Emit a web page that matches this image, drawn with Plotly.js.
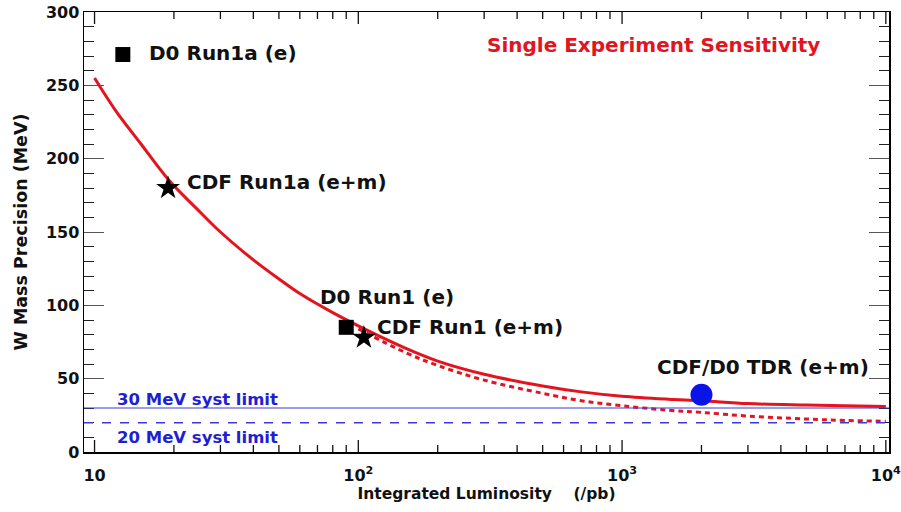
<!DOCTYPE html>
<html>
<head>
<meta charset="utf-8">
<script src="https://cdn.plot.ly/plotly-3.0.1.min.js"></script>
<style>html,body{margin:0;padding:0;background:#fff;}#chart{width:901px;height:512px;}</style>
</head>
<body>
<div id="chart"></div>
<script>
// Sensitivity curves
const lumi = [10, 12, 15, 19, 25, 30, 40, 50, 60, 80, 100, 150, 200, 300, 500, 700, 1000, 1500, 2000, 3000, 5000, 7000, 10000];
const precision30 = [255, 233, 210, 186, 164, 150, 131, 118, 108, 95, 86, 71, 62, 53, 45, 41, 38, 36, 35, 33, 32, 31.5, 31];
const lumiDash = [100, 150, 200, 300, 500, 700, 1000, 1500, 2000, 3000, 5000, 7000, 10000];
const precision20 = [84, 68, 59, 49, 40, 35, 31.5, 28.5, 27, 24.5, 22.5, 21.5, 21];

// Measurements
const d0Names = ["D0 Run1a (e)", "D0 Run1 (e)"];
const d0Lumi = [12.8, 90];
const d0Prec = [271, 85];
const cdfNames = ["CDF Run1a (e+m)", "CDF Run1 (e+m)"];
const cdfLumi = [19, 105];
const cdfPrec = [180, 78];
const tdrName = ["CDF/D0 TDR (e+m)"];
const tdrLumi = [2000];
const tdrPrec = [39];

// Systematic limits
const systLimits = [30, 20];
const systLabels = ["30 MeV syst limit", "20 MeV syst limit"];

// Axis ticks
const xDecades = [10, 100, 1000, 10000];
const xDecadeText = ["10", "10<sup>2</sup>", "10<sup>3</sup>", "10<sup>4</sup>"];
const xMinorDigits = [2, 3, 4, 5, 6, 7, 8, 9];
const yTickVals = [0, 50, 100, 150, 200, 250, 300];

const RED = "#e3141f";
const BLUE = "#1e1ed2";
const FONT = "DejaVu Sans";
const X_RANGE = [0.96, 4.012];
const Y_RANGE = [0, 300];
const PLOT_H = 440;

// x-axis tick marks (bottom and top, inward) built as a line trace in axis units
const tickX = [], tickY = [];
function xTick(v, len) {
  const h = (Y_RANGE[1] - Y_RANGE[0]) * len / PLOT_H;
  tickX.push(v, v, null, v, v, null);
  tickY.push(Y_RANGE[0], Y_RANGE[0] + h, null, Y_RANGE[1], Y_RANGE[1] - h, null);
}
xDecades.forEach((d, i) => {
  xTick(d, 12);
  if (i < xDecades.length - 1) xMinorDigits.forEach(k => xTick(d * k, 7));
});

const traces = [
  {x: tickX, y: tickY, mode: "lines", line: {color: "#111", width: 1.3}, connectgaps: false, hoverinfo: "skip", cliponaxis: false},
  {x: lumiDash, y: precision20, mode: "lines", line: {color: RED, width: 3, dash: "5px,4px", shape: "spline"}, hoverinfo: "skip"},
  {x: lumi, y: precision30, mode: "lines", line: {color: RED, width: 3, shape: "spline"}, hoverinfo: "skip"},
  {x: d0Lumi, y: d0Prec, mode: "markers", marker: {symbol: "square", size: 15, color: "#000"}, text: d0Names},
  {x: cdfLumi, y: cdfPrec, mode: "markers", marker: {symbol: "star", size: 18, color: "#000"}, text: cdfNames},
  {x: tdrLumi, y: tdrPrec, mode: "markers", marker: {symbol: "circle", size: 22, color: "#0a14e6"}, text: tdrName}
];

const lx = v => Math.log10(v);
const labelFont = {family: FONT, size: 20, color: "#111", weight: "bold"};
const annotations = [
  {x: lx(15.8), y: 272, text: d0Names[0], xanchor: "left"},
  {x: lx(22.0), y: 184, text: cdfNames[0], xanchor: "left"},
  {x: lx(70.3), y: 106, text: d0Names[1], xanchor: "left"},
  {x: lx(116), y: 85, text: cdfNames[1], xanchor: "left"},
  {x: lx(1330), y: 58, text: tdrName[0], xanchor: "left"}
].map(a => Object.assign({xref: "x", yref: "y", showarrow: false, yanchor: "middle", font: labelFont}, a));
annotations.push({x: lx(301), y: 277.5, xref: "x", yref: "y", xanchor: "left", yanchor: "middle", showarrow: false,
  text: "Single Experiment Sensitivity", font: {family: FONT, size: 20, color: RED, weight: "bold"}});
annotations.push({x: lx(12), y: systLimits[0] + 6, xref: "x", yref: "y", xanchor: "left", yanchor: "middle", showarrow: false,
  text: systLabels[0], font: {family: FONT, size: 16.5, color: BLUE, weight: "bold"}});
annotations.push({x: lx(12), y: 10, xref: "x", yref: "y", xanchor: "left", yanchor: "middle", showarrow: false,
  text: systLabels[1], font: {family: FONT, size: 16.5, color: BLUE, weight: "bold"}});

const shapes = [
  {type: "line", xref: "paper", x0: 0, x1: 1, yref: "y", y0: systLimits[0], y1: systLimits[0], line: {color: "#3a3adc", width: 1.2}},
  {type: "line", xref: "paper", x0: 0, x1: 1, yref: "y", y0: systLimits[1], y1: systLimits[1], line: {color: "#3a3adc", width: 1.5, dash: "dash"}}
];

const layout = {
  width: 901, height: 512,
  margin: {l: 84, r: 12, t: 12, b: 60},
  paper_bgcolor: "#fff", plot_bgcolor: "#fff",
  showlegend: false,
  xaxis: {
    type: "log", range: X_RANGE,
    tickmode: "array", tickvals: xDecades, ticktext: xDecadeText,
    ticks: "", ticklabelstandoff: 8, ticklabeloverflow: "allow",
    showline: true, linecolor: "#000", linewidth: 1.5, mirror: true,
    showgrid: false, zeroline: false,
    tickfont: {family: FONT, size: 16, color: "#111", weight: "bold"},
    title: {text: "Integrated Luminosity&nbsp;&nbsp;&nbsp;&nbsp;(/pb)", standoff: 4,
            font: {family: FONT, size: 15.5, color: "#111", weight: "bold"}}
  },
  yaxis: {
    range: Y_RANGE, tickvals: yTickVals,
    ticks: "inside", ticklen: 20, tickcolor: "#555", tickwidth: 1,
    minor: {ticks: "inside", ticklen: 10, dtick: 10, tickcolor: "#222", showgrid: false},
    showline: true, linecolor: "#000", linewidth: 1.5, mirror: "ticks",
    showgrid: false, zeroline: false,
    tickfont: {family: FONT, size: 16, color: "#111", weight: "bold"},
    title: {text: "W Mass Precision (MeV)", standoff: 14,
            font: {family: FONT, size: 17.5, color: "#111", weight: "bold"}}
  },
  annotations: annotations,
  shapes: shapes
};

Plotly.newPlot("chart", traces, layout, {staticPlot: true, displayModeBar: false});
</script>
</body>
</html>
